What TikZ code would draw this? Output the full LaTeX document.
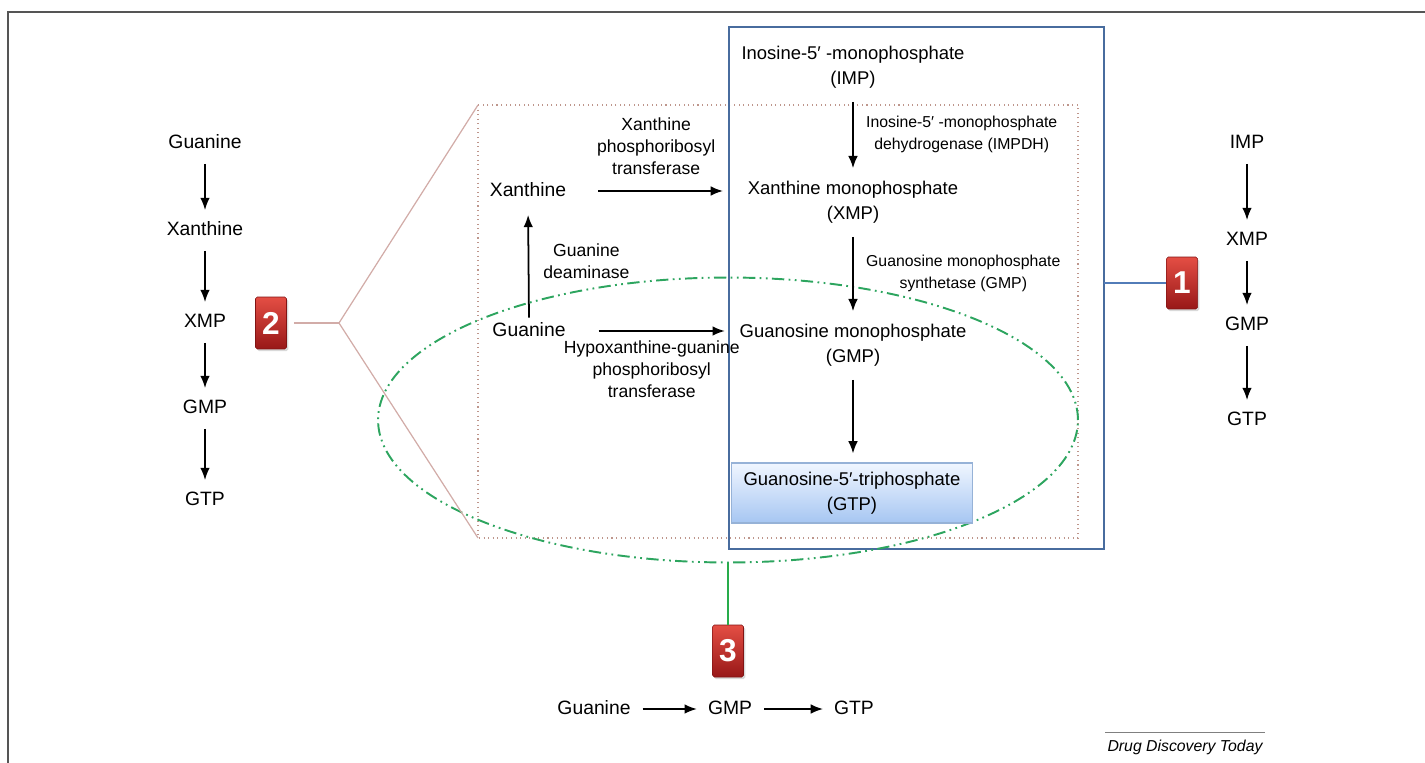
\documentclass[tikz,border=0pt]{standalone}
\usepackage{fontspec}
\setmainfont{Liberation Sans}
\definecolor{frameGray}{RGB}{85, 85, 85}
\definecolor{pathBlue}{RGB}{72, 108, 158}
\definecolor{linkBlue}{RGB}{82, 124, 184}
\definecolor{zoomRose}{RGB}{190, 150, 140}
\definecolor{fanRose}{RGB}{210, 172, 168}
\definecolor{ringGreen}{RGB}{45, 165, 95}
\definecolor{linkGreen}{RGB}{40, 172, 75}
\definecolor{badgeTop}{RGB}{228, 78, 68}
\definecolor{badgeBot}{RGB}{152, 24, 24}
\definecolor{gtpTop}{RGB}{240, 246, 255}
\definecolor{gtpBot}{RGB}{166, 198, 242}
\definecolor{gtpEdge}{RGB}{150, 178, 215}
\usetikzlibrary{arrows.meta, shapes.geometric, shadows}

\tikzset{
  metab/.style={font=\fontsize{11}{14}\selectfont, inner sep=1pt, text height=8pt, text depth=2pt},
  metabpair/.style={font=\fontsize{10.5}{14}\selectfont, align=center, inner sep=2pt},
  enzyme/.style={font=\fontsize{10}{12.5}\selectfont, align=center, inner sep=2pt},
  enzymesmall/.style={font=\fontsize{9}{12.5}\selectfont, align=center, inner sep=2pt},
  flow/.style={-{Latex[length=7pt, width=5.5pt]}, line width=1pt, shorten <=0.2cm, shorten >=0.18cm},
  badge/.style={rectangle, minimum width=0.62cm, minimum height=1.04cm, inner sep=0pt,
    top color=badgeTop, bottom color=badgeBot, draw=badgeBot!85!black, line width=0.3pt,
    rounded corners=1pt, text=white, font=\fontsize{18}{18}\selectfont\bfseries,
    drop shadow={opacity=0.3, shadow xshift=1pt, shadow yshift=-1.2pt}},
  gtpbox/.style={rectangle, minimum width=4.82cm, minimum height=1.2cm, align=center,
    top color=gtpTop, bottom color=gtpBot, draw=gtpEdge, line width=0.6pt,
    font=\fontsize{10.5}{14}\selectfont}
}

\begin{document}
\begin{tikzpicture}[x=0.02cm, y=-0.02cm]
  \useasboundingbox (0,0) rectangle (1425,763);
  \draw[frameGray, line width=1pt] (1425,12) -- (8,12) -- (8,763);

  \node[metab] (lGua) at (205,143) {Guanine};
  \node[metab] (lXan) at (205,230) {Xanthine};
  \node[metab] (lXmp) at (205,322) {XMP};
  \node[metab] (lGmp) at (205,408) {GMP};
  \node[metab] (lGtp) at (205,500) {GTP};
  \draw[flow] (lGua) -- (lXan);
  \draw[flow] (lXan) -- (lXmp);
  \draw[flow] (lXmp) -- (lGmp);
  \draw[flow] (lGmp) -- (lGtp);

  \node[metab] (rImp) at (1247,143) {IMP};
  \node[metab] (rXmp) at (1247,240) {XMP};
  \node[metab] (rGmp) at (1247,325) {GMP};
  \node[metab] (rGtp) at (1247,420) {GTP};
  \draw[flow] (rImp) -- (rXmp);
  \draw[flow] (rXmp) -- (rGmp);
  \draw[flow] (rGmp) -- (rGtp);

  \node[metab] (bGua) at (594,709) {Guanine};
  \node[metab] (bGmp) at (730,709) {GMP};
  \node[metab] (bGtp) at (854,709) {GTP};
  \draw[flow] (bGua) -- (bGmp);
  \draw[flow] (bGmp) -- (bGtp);

  \coordinate (zoomNW) at (478,105);
  \coordinate (zoomSW) at (478,538);
  \coordinate (zoomSE) at (1078,538);
  \draw[zoomRose, dotted, line width=0.6pt] (zoomNW) rectangle (zoomSE);
  \draw[pathBlue, line width=1.3pt] (729,27) rectangle (1104,549);
  \coordinate (boxE) at (1104,283);
  \node[ellipse, draw=ringGreen, line width=1.1pt, minimum width=14cm, minimum height=5.7cm, inner sep=0pt,
    dash pattern=on 7pt off 2.5pt on 1pt off 2.5pt on 1pt off 2.5pt] (ring) at (728,420) {};

  \node[metabpair] (imp) at (853,67) {Inosine-5′ -monophosphate\\(IMP)};
  \node[metabpair] (xmp) at (853,202) {Xanthine monophosphate\\(XMP)};
  \node[metabpair] (gmp) at (853,345) {Guanosine monophosphate\\(GMP)};
  \node[gtpbox] (gtp) at (852,493) {Guanosine-5′-triphosphate\\(GTP)};
  \node[metab] (xan) at (528,191) {Xanthine};
  \node[metab] (gua) at (529,331) {Guanine};

  \draw[flow] (imp) -- (xmp) node[midway, right=5pt, enzymesmall] {Inosine-5′ -monophosphate\\dehydrogenase (IMPDH)};
  \draw[flow] (xmp) -- (gmp) node[midway, right=5pt, enzymesmall] {Guanosine monophosphate\\synthetase (GMP)};
  \draw[flow] (gmp.south) -- (gmp.south |- gtp.north);
  \draw[flow, shorten <=0.6cm, shorten >=0.42cm] (xan.east) -- (xan.east -| xmp.west)
    node[midway, above=7pt, enzyme] {Xanthine\\phosphoribosyl\\transferase};
  \draw[flow, shorten <=0.62cm, shorten >=0.22cm] (gua.east) -- (gua.east -| gmp.west)
    node[midway, below=3pt, enzyme] {Hypoxanthine-guanine\\phosphoribosyl\\transferase};
  \draw[flow, shorten <=0.05cm, shorten >=0.26cm] (gua.north) -- (xan.south)
    node[midway, right=6pt, enzyme] {Guanine\\deaminase};

  \node[badge] (badge1) at (1182,283) {1};
  \node[badge] (badge2) at (271,323) {2};
  \node[badge] (badge3) at (728,651) {3};
  \coordinate (fan) at (339,323);
  \draw[fanRose, line width=0.7pt, shorten <=0.14cm] (badge2.east) -- (fan);
  \draw[fanRose, line width=0.7pt] (zoomNW) -- (fan) -- (zoomSW);
  \draw[linkBlue, line width=1.4pt] (boxE) -- (badge1.west);
  \draw[linkGreen, line width=1.4pt] (ring.south) -- (badge3.north);

  \node[font=\fontsize{9}{11}\selectfont\itshape, inner sep=1pt] (credit) at (1185,747) {Drug Discovery Today};
  \draw[gray, line width=0.6pt] ([yshift=3pt]credit.north west) -- ([yshift=3pt]credit.north east);
\end{tikzpicture}
\end{document}
